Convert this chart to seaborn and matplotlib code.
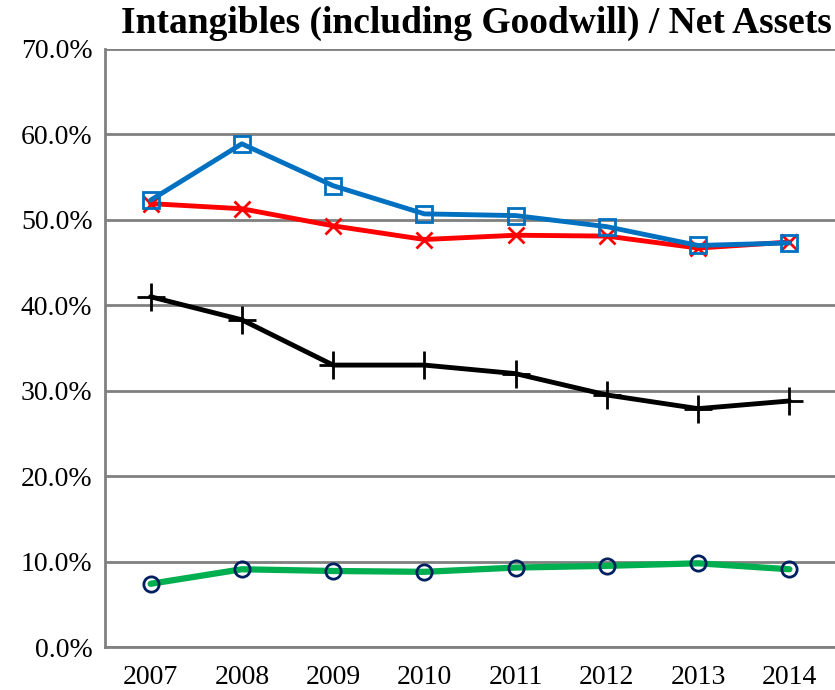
import pandas as pd
import matplotlib.pyplot as plt
import seaborn as sns
from matplotlib.ticker import FuncFormatter, FixedLocator

years = ['2007', '2008', '2009', '2010', '2011', '2012', '2013', '2014']
blue_vals = [52.3, 58.9, 54.0, 50.7, 50.5, 49.2, 47.0, 47.3]
red_vals = [51.9, 51.3, 49.3, 47.7, 48.2, 48.1, 46.7, 47.4]
black_vals = [41.0, 38.3, 33.0, 33.0, 32.0, 29.5, 27.9, 28.8]
green_vals = [7.4, 9.1, 8.9, 8.8, 9.3, 9.5, 9.8, 9.1]

sns.set_style('white')
plt.rcParams['font.family'] = ['Liberation Serif', 'DejaVu Serif']
plt.rcParams['text.color'] = 'black'
plt.rcParams['xtick.labelcolor'] = 'black'
plt.rcParams['ytick.labelcolor'] = 'black'

fig = plt.figure(figsize=(8.35, 6.9), dpi=100)
ax = fig.add_axes([0.1257, 0.0623, 0.8743, 0.8667])

# series: values, line colour, marker, marker edge colour, marker size, line width
series = [
    (green_vals, '#00b050', 'o', '#002060', 11, 4.5),
    (black_vals, 'black', '+', 'black', 20, 3.5),
    (red_vals, '#ff0000', 'x', '#ff0000', 12, 3.5),
    (blue_vals, '#0070c0', 's', '#0070c0', 11, 3.5),
]

for vals, col, mk, mec, ms, lw in series:
    df = pd.DataFrame({'year': years, 'value': vals})
    sns.lineplot(data=df, x='year', y='value', ax=ax, color=col, linewidth=lw,
                 marker=mk, markersize=ms, markerfacecolor='none',
                 markeredgecolor=mec, markeredgewidth=2, sort=False)

ax.set_ylim(0, 70)
ax.set_xlim(-0.5, 7.478)
ax.yaxis.set_major_locator(FixedLocator(range(0, 71, 10)))
ax.yaxis.set_major_formatter(FuncFormatter(lambda v, p: f'{v:.1f}%'))
ax.grid(axis='y', color='#808080', linewidth=2)
ax.set_axisbelow(True)

ax.set_xticks(range(len(years)))
ax.set_xticklabels(years)
ax.set_xticks([i - 0.5 for i in range(len(years) + 1)], minor=True)
ax.tick_params(axis='x', which='major', length=0, pad=13, labelsize=20)
ax.tick_params(axis='x', which='minor', length=8, width=2, color='#808080', direction='out')
ax.tick_params(axis='y', length=6, width=2, color='#808080', direction='out', labelsize=20, pad=3)

for side in ['top', 'right']:
    ax.spines[side].set_visible(False)
for side in ['left', 'bottom']:
    ax.spines[side].set_color('#808080')
    ax.spines[side].set_linewidth(2)

ax.set_xlabel('')
ax.set_ylabel('')
fig.text(0.570, 0.966, 'Intangibles (including Goodwill) / Net Assets',
         ha='center', va='center', fontsize=27, fontweight='bold')

fig.savefig('out.png', dpi=100)
